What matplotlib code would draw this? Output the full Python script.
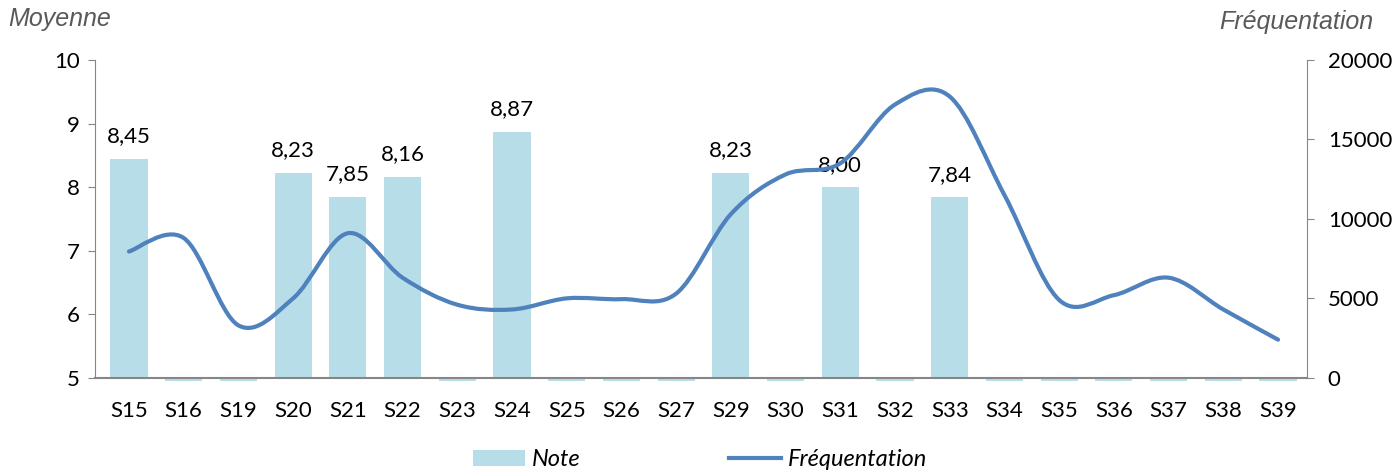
import numpy as np
import matplotlib.pyplot as plt
from matplotlib.path import Path
from matplotlib.patches import PathPatch
from matplotlib.lines import Line2D
from matplotlib.patches import Patch

# Data
semaines = ["S15", "S16", "S19", "S20", "S21", "S22", "S23", "S24", "S25", "S26", "S27",
            "S29", "S30", "S31", "S32", "S33", "S34", "S35", "S36", "S37", "S38", "S39"]
notes = [8.45, 0, 0, 8.23, 7.85, 8.16, 0, 8.87, 0, 0, 0,
         8.23, 0, 8.00, 0, 7.84, 0, 0, 0, 0, 0, 0]
frequentation = [7950, 8800, 3300, 5000, 9100, 6300, 4600, 4300, 5000, 4950, 5300,
                 10300, 12800, 13500, 17200, 17700, 11500, 4900, 5200, 6300, 4300, 2400]

bar_color = "#B7DEE8"
line_color = "#4F81BD"
axis_color = "#868686"
font = "Lato"


def smooth_path(xs, ys):
    # Excel-like smoothed line: Catmull-Rom segments as cubic Bezier curves
    pts = np.column_stack([xs, ys]).astype(float)
    n = len(pts)
    verts = [pts[0]]
    codes = [Path.MOVETO]
    for i in range(n - 1):
        p0 = pts[i - 1] if i > 0 else pts[i]
        p1 = pts[i]
        p2 = pts[i + 1]
        p3 = pts[i + 2] if i + 2 < n else pts[i + 1]
        c1 = p1 + (p2 - p0) / 6.0
        c2 = p2 - (p3 - p1) / 6.0
        verts += [c1, c2, p2]
        codes += [Path.CURVE4] * 3
    return Path(verts, codes)


fig = plt.figure(figsize=(14, 4.7), dpi=100)
ax = fig.add_axes([0.0679, 0.1894, 0.8657, 0.6829])
ax2 = ax.twinx()

x = np.arange(len(semaines))
heights = np.array(notes) - 5
ax.bar(x, heights, bottom=5, width=0.68, color=bar_color, zorder=1)

for xi, v in zip(x, notes):
    if v > 0:
        ax.annotate(f"{v:.2f}".replace(".", ","), (xi, v), xytext=(0, 9),
                    textcoords="offset points", ha="center", va="bottom",
                    fontsize=16, family=font)

ax.set_xlim(-0.62, len(semaines) - 1 + 0.53)
ax.set_ylim(4.95, 10)
ax.set_yticks([5, 6, 7, 8, 9, 10])
ax.set_xticks(x)
ax.set_xticklabels(semaines)

ax2.set_ylim(-200, 20000)
ax2.set_yticks([0, 5000, 10000, 15000, 20000])
ax2.add_patch(PathPatch(smooth_path(x, frequentation), facecolor="none",
                        edgecolor=line_color, lw=3, capstyle="round", zorder=3))

for a in (ax, ax2):
    a.spines["top"].set_visible(False)
ax.spines["bottom"].set_position(("data", 5))
for s in ("left", "bottom"):
    ax.spines[s].set_color(axis_color)
ax.spines["right"].set_visible(False)
ax.spines["left"].set_bounds(5, 10)
ax.spines["bottom"].set_linewidth(1.5)
ax2.spines["left"].set_visible(False)
ax2.spines["bottom"].set_visible(False)
ax2.spines["right"].set_color(axis_color)
ax2.spines["right"].set_bounds(0, 20000)

ax.tick_params(axis="x", length=0, pad=17, labelsize=16)
ax.tick_params(axis="y", length=5, color=axis_color, pad=6, labelsize=16)
ax2.tick_params(axis="y", length=5, color=axis_color, pad=10, labelsize=16)
for lab in ax.get_xticklabels() + ax.get_yticklabels() + ax2.get_yticklabels():
    lab.set_family(font)

fig.text(0.006, 0.96, "Moyenne", fontsize=18, style="italic", color="#595959",
         family="Liberation Sans", ha="left", va="center")
fig.text(0.981, 0.953, "Fréquentation", fontsize=18, style="italic", color="#595959",
         family="Liberation Sans", ha="right", va="center")

handles = [Patch(facecolor=bar_color, label="Note"),
           Line2D([0], [0], color=line_color, lw=3, label="Fréquentation")]
fig.legend(handles=handles, loc="center", bbox_to_anchor=(0.5, 0.022), ncol=2,
           frameon=False, columnspacing=6.3, handlelength=2.2, handletextpad=0.3,
           prop={"family": font, "style": "italic", "size": 17})

fig.savefig("out.png", dpi=100)
